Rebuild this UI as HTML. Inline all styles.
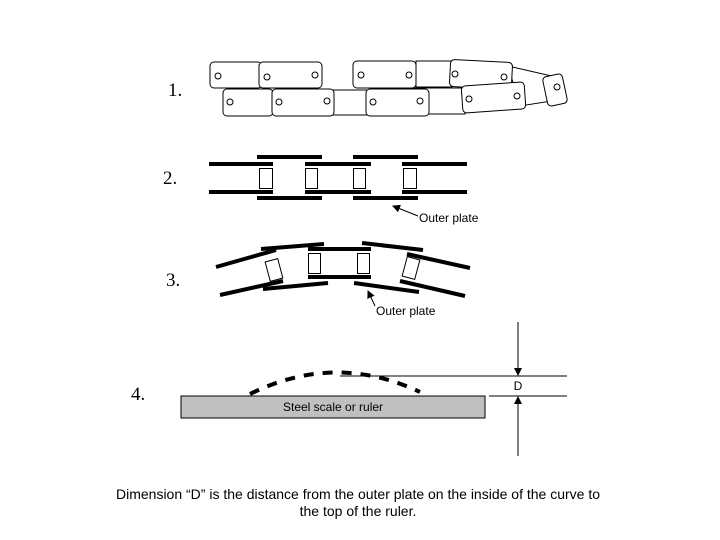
<!DOCTYPE html>
<html><head><meta charset="utf-8"><style>
body{margin:0;background:#fff}
svg{display:block}
.s{font-family:"Liberation Serif",serif;font-size:19px}
.a{font-family:"Liberation Sans",sans-serif;font-size:12px}
</style></head><body>
<svg width="720" height="540" viewBox="0 0 720 540">
<defs><marker id="ah" markerWidth="8" markerHeight="8" refX="7" refY="4" orient="auto" markerUnits="userSpaceOnUse"><path d="M0,0 L8,4 L0,8 z" fill="#000"/></marker></defs>
<text class="s" x="168" y="96">1.</text>
<text class="s" x="163" y="184">2.</text>
<text class="s" x="166" y="286">3.</text>
<text class="s" x="131" y="400">4.</text>
<!-- Section 1 -->
<g fill="#fff" stroke="#000" stroke-width="1">
<rect x="367" y="63" width="95" height="25"/>
<path d="M416,61 L452,61 L452,87 L416,87 z"/>
<rect x="300" y="90" width="100" height="25"/>
<rect x="425" y="88" width="40" height="26"/>
<path d="M508,66 L556,77 L558,100 L520,106 z"/>
<rect x="210" y="62" width="52" height="26" rx="4"/>
<rect x="259" y="62" width="63" height="26" rx="4"/>
<rect x="353" y="61" width="63" height="27" rx="4"/>
<rect x="450" y="61" width="62" height="27" rx="4" transform="rotate(3 481 74)"/>
<rect x="223" y="89" width="50" height="27" rx="4"/>
<rect x="272" y="89" width="62" height="27" rx="4"/>
<rect x="366" y="89" width="63" height="27" rx="4"/>
<rect x="462" y="84" width="63" height="27" rx="4" transform="rotate(-4 493 97)"/>
<rect x="545" y="75" width="20" height="30" rx="4" transform="rotate(-12 555 90)"/>
<circle cx="218" cy="76" r="3"/><circle cx="267" cy="77" r="3"/><circle cx="315" cy="75" r="3"/>
<circle cx="361" cy="75" r="3"/><circle cx="409" cy="75" r="3"/><circle cx="455" cy="74" r="3"/><circle cx="504" cy="77" r="3"/>
<circle cx="230" cy="102" r="3"/><circle cx="279" cy="102" r="3"/><circle cx="327" cy="101" r="3"/>
<circle cx="373" cy="102" r="3"/><circle cx="420" cy="101" r="3"/><circle cx="469" cy="99" r="3"/><circle cx="517" cy="96" r="3"/><circle cx="557" cy="87" r="3"/>
</g>
<!-- Section 2 -->
<g stroke="#000" stroke-width="4">
<line x1="209" y1="164" x2="273" y2="164"/><line x1="305" y1="164" x2="371" y2="164"/><line x1="402" y1="164" x2="467" y2="164"/>
<line x1="209" y1="192" x2="273" y2="192"/><line x1="305" y1="192" x2="371" y2="192"/><line x1="402" y1="192" x2="467" y2="192"/>
<line x1="257" y1="157" x2="322" y2="157"/><line x1="353" y1="157" x2="418" y2="157"/>
<line x1="257" y1="198" x2="322" y2="198"/><line x1="353" y1="198" x2="418" y2="198"/>
</g>
<g fill="#fff" stroke="#000" stroke-width="1">
<rect x="259.5" y="168.5" width="13" height="20"/><rect x="305.5" y="168.5" width="12" height="20"/>
<rect x="353.5" y="168.5" width="12" height="20"/><rect x="403.5" y="168.5" width="13" height="20"/>
</g>
<line x1="418" y1="216" x2="393" y2="206" stroke="#000" marker-end="url(#ah)"/>
<text class="a" x="419" y="222">Outer plate</text>
<!-- Section 3 -->
<g stroke="#000" stroke-width="4">
<line x1="216" y1="267" x2="276" y2="250"/><line x1="261" y1="249" x2="324" y2="244"/>
<line x1="220" y1="295" x2="283" y2="281"/><line x1="263" y1="289" x2="328" y2="283"/>
<line x1="308" y1="249" x2="371" y2="249"/><line x1="308" y1="277" x2="371" y2="277"/>
<line x1="362" y1="243" x2="423" y2="250"/><line x1="407" y1="254" x2="470" y2="268"/>
<line x1="400" y1="281" x2="465" y2="296"/><line x1="354" y1="283" x2="419" y2="292"/>
</g>
<g fill="#fff" stroke="#000" stroke-width="1">
<rect x="308.5" y="253.5" width="12" height="20"/><rect x="357.5" y="253.5" width="12" height="20"/>
<rect x="267.5" y="260" width="13" height="20" transform="rotate(-15 274 270)"/>
<rect x="404.5" y="258" width="13" height="20" transform="rotate(15 411 268)"/>
</g>
<line x1="375" y1="306" x2="368" y2="291" stroke="#000" marker-end="url(#ah)"/>
<text class="a" x="376" y="315">Outer plate</text>
<!-- Section 4 -->
<rect x="181" y="396" width="304" height="22" fill="#c0c0c0" stroke="#000"/>
<text class="a" x="283" y="411">Steel scale or ruler</text>
<path d="M250,394 Q335,352 420,392" fill="none" stroke="#000" stroke-width="4" stroke-dasharray="10,9"/>
<line x1="340" y1="376" x2="567" y2="376" stroke="#000"/>
<line x1="489" y1="396" x2="567" y2="396" stroke="#000"/>
<line x1="518" y1="322" x2="518" y2="375" stroke="#000" marker-end="url(#ah)"/>
<line x1="518" y1="456" x2="518" y2="397" stroke="#000" marker-end="url(#ah)"/>
<text class="a" x="518" y="390" text-anchor="middle">D</text>
<text x="358" y="499" text-anchor="middle" style="font-family:'Liberation Sans',sans-serif;font-size:14px">Dimension “D” is the distance from the outer plate on the inside of the curve to</text>
<text x="358" y="516" text-anchor="middle" style="font-family:'Liberation Sans',sans-serif;font-size:14px">the top of the ruler.</text>
</svg>
</body></html>
